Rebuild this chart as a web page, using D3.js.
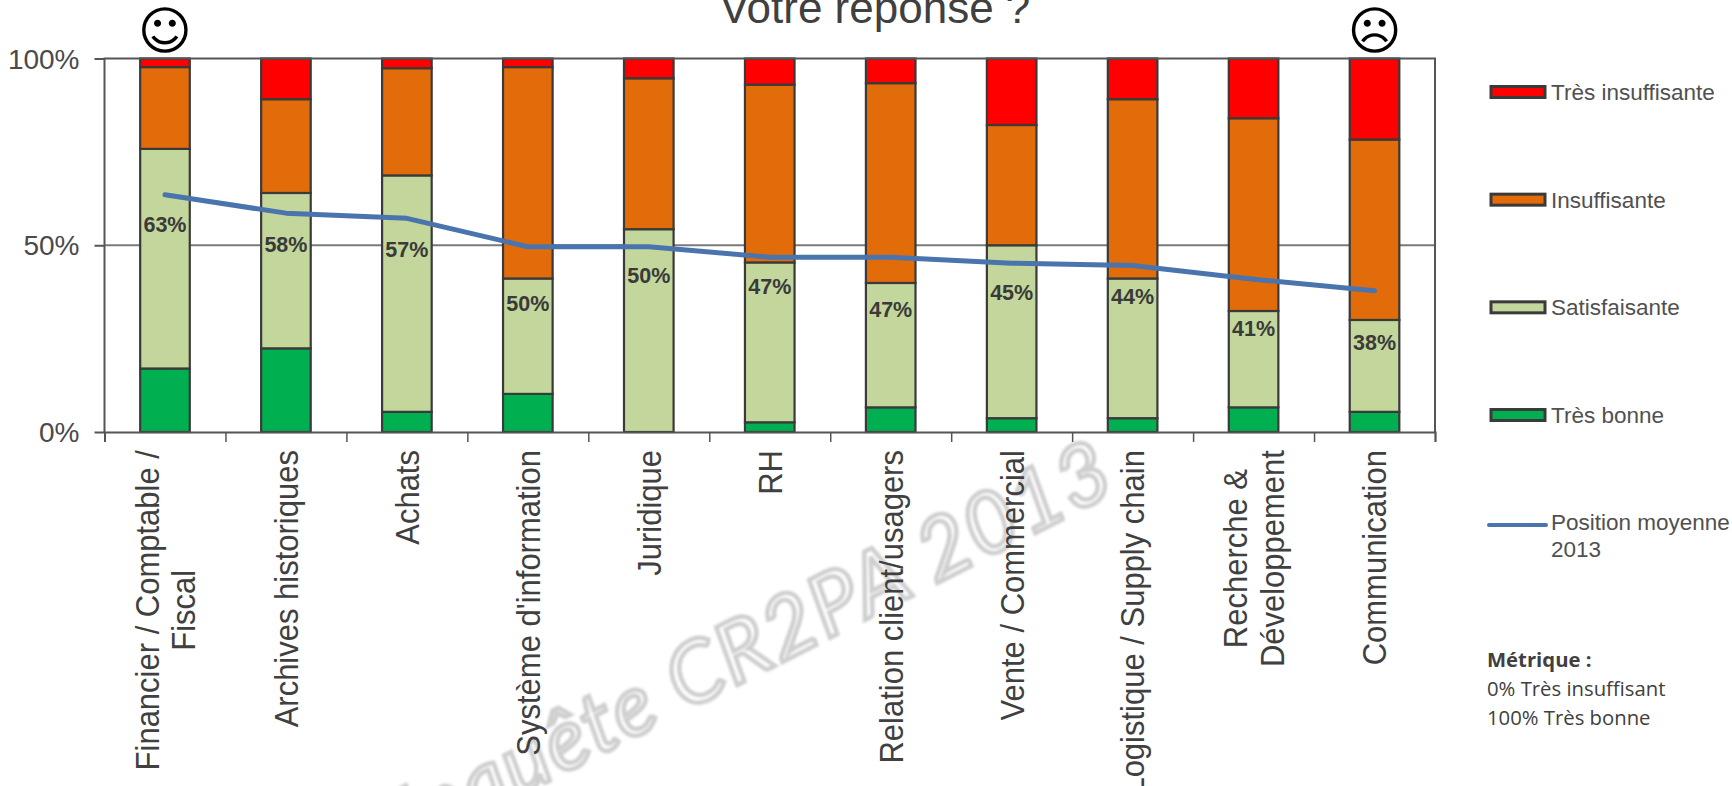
<!DOCTYPE html>
<html lang="fr">
<head>
<meta charset="utf-8">
<title>Votre réponse ?</title>
<script src="https://cdn.jsdelivr.net/npm/d3@7"></script>
<style>
html,body{margin:0;padding:0;background:#fff;overflow:hidden}
svg{display:block}
text{font-family:"Liberation Sans",Arial,sans-serif;fill:#404040}
</style>
</head>
<body>
<svg id="chart" width="1732" height="786">
  <defs><filter id="soft" x="-5%" y="-5%" width="110%" height="110%"><feGaussianBlur stdDeviation="0.8"/></filter></defs>
</svg>
<script>
const categories = [
  ["Financier / Comptable /", "Fiscal"], ["Archives historiques"], ["Achats"],
  ["Système d'information"], ["Juridique"], ["RH"], ["Relation client/usagers"],
  ["Vente / Commercial"], ["Logistique / Supply chain"],
  ["Recherche &", "Développement"], ["Communication"]
];
const tresBonne        = [17.0, 22.4,  5.4, 10.2,  0.0,  2.6,  6.6,  3.7,  3.7,  6.6,  5.4];
const satisfaisante    = [58.8, 41.6, 63.3, 30.9, 54.3, 42.8, 33.3, 46.3, 37.4, 25.8, 24.6];
const insuffisante     = [21.9, 25.1, 28.7, 56.6, 40.4, 47.6, 53.5, 32.2, 48.0, 51.6, 48.3];
const tresInsuffisante = [ 2.3, 10.9,  2.6,  2.3,  5.3,  7.0,  6.6, 17.8, 10.9, 16.0, 21.7];
const positionMoyenne  = [63.5, 58.6, 57.2, 49.6, 49.6, 46.8, 46.8, 45.2, 44.6, 40.9, 37.8];
const positionLabels   = ["63%","58%","57%","50%","50%","47%","47%","45%","44%","41%","38%"];
const labelDrops       = [30, 31, 31, 57, 29, 29, 52, 29, 31, 49, 52];
const yTicks           = [0, 50, 100];
const legendItems      = ["Très insuffisante", "Insuffisante", "Satisfaisante", "Très bonne"];
const legendLine       = ["Position moyenne", "2013"];
const metricLines      = ["Métrique :", "0% Très insuffisant", "100% Très bonne"];
const seriesKeys       = ["tb", "sa", "in", "ti"];
const seriesColors     = {tb:"#00b050", sa:"#c3d69b", in:"#e36c0a", ti:"#ff0000"};
const legendColors     = ["#ff0000", "#e36c0a", "#c3d69b", "#00b050"];

const svg = d3.select("#chart");
const L = 104.5, R = 1435, T = 58.5, B = 432;
const idx = d3.range(categories.length);
const x = d3.scaleBand().domain(idx).range([L, R]).paddingInner(0.59).paddingOuter(0.295);
const xEdges = d3.scaleLinear().domain([0, categories.length]).range([L, R]);
const y = d3.scaleLinear().domain([0, 100]).range([B, T]);
const cx = i => x(i) + x.bandwidth() / 2;

// watermark
svg.append("text")
  .attr("transform", "translate(1120,490) rotate(-27)")
  .attr("text-anchor", "end").attr("filter", "url(#soft)")
  .style("font-family", "Lato, sans-serif").style("font-style", "italic")
  .style("font-size", "86px").style("fill", "#fff")
  .style("stroke", "#cfcfcf").style("stroke-width", 4.5).style("letter-spacing", "2px")
  .text("Enquête CR2PA 2013");

// gridline
svg.append("g").selectAll("line").data(yTicks.filter(d => d === 50)).join("line")
  .attr("x1", L).attr("x2", R).attr("y1", y).attr("y2", y)
  .attr("stroke", "#7a7a7a").attr("stroke-width", 2);

// bars
const table = idx.map(i => ({tb:tresBonne[i], sa:satisfaisante[i], in:insuffisante[i], ti:tresInsuffisante[i], i}));
const stacked = d3.stack().keys(seriesKeys)(table);
svg.append("g").selectAll("g").data(stacked).join("g")
  .attr("fill", s => seriesColors[s.key])
  .selectAll("rect").data(s => s).join("rect")
  .attr("x", d => x(d.data.i)).attr("width", x.bandwidth())
  .attr("y", d => y(d[1])).attr("height", d => y(d[0]) - y(d[1]))
  .attr("stroke", "#3a3a3a").attr("stroke-width", 2.2);

// frame
svg.append("path")
  .attr("d", d3.line()([[L, B], [L, T], [R, T], [R, B]]))
  .attr("fill", "none").attr("stroke", "#555").attr("stroke-width", 2);

// axes
const yAxis = svg.append("g").attr("transform", `translate(${L},0)`)
  .call(d3.axisLeft(y).tickValues(yTicks).tickFormat(d => d + "%").tickSize(10).tickPadding(15));
yAxis.select(".domain").remove();
yAxis.selectAll("line").attr("stroke", "#555").attr("stroke-width", 2);
yAxis.selectAll("text").style("font-size", "28px").attr("fill", null).attr("dy", "0.34em").style("fill", "#4a4a4a");

const xAxis = svg.append("g").attr("transform", `translate(0,${B})`)
  .call(d3.axisBottom(xEdges).tickValues(d3.range(categories.length + 1)).tickFormat("").tickSize(10));
xAxis.select(".domain").attr("stroke", "#555").attr("stroke-width", 2);
xAxis.selectAll("line").attr("stroke", "#555").attr("stroke-width", 1.5);

// category labels: rotated, lines centred on the longest one
const catTop = 450, catLH = 34;
const catG = svg.append("g").selectAll("text").data(categories).join("text")
  .style("font-size", "31px").attr("text-anchor", "middle");
catG.each(function (lines, i) {
  const t = d3.select(this);
  lines.forEach((s, k) => t.append("tspan").attr("x", 0)
    .attr("y", (k - (lines.length - 1) / 2) * catLH + 11).text(s));
  const longest = d3.max(t.selectAll("tspan").nodes(), n => n.getComputedTextLength());
  t.attr("transform", `translate(${cx(i)},${catTop + longest / 2}) rotate(-90) scale(1,1.08)`);
});

// average line
svg.append("path")
  .attr("d", d3.line().x((d, i) => cx(i)).y(d => y(d)).curve(d3.curveLinear)(positionMoyenne))
  .attr("fill", "none").attr("stroke", "#4a74ad").attr("stroke-width", 5)
  .attr("stroke-linecap", "round").attr("stroke-linejoin", "round");

// point labels
svg.append("g").selectAll("text").data(positionLabels).join("text")
  .attr("x", (d, i) => cx(i)).attr("y", (d, i) => y(positionMoyenne[i]) + labelDrops[i])
  .attr("text-anchor", "middle").attr("dy", "0.35em")
  .style("font-size", "21.5px").style("font-weight", "bold").style("fill", "#3a3a3a")
  .text(d => d);

// title
svg.append("text").attr("x", 875).attr("y", 23).attr("text-anchor", "middle")
  .style("font-size", "44px").text("Votre réponse ?");

// smileys
svg.append("g").selectAll("text").data(["☺", "☹"]).join("text")
  .attr("x", (d, i) => cx(i === 0 ? 0 : categories.length - 1)).attr("y", 49)
  .attr("text-anchor", "middle")
  .style("font-family", "'DejaVu Sans'").style("font-size", "52px").style("fill", "#000")
  .text(d => d);

// legend
const legY = d3.scalePoint().domain(legendItems).range([92, 415]);
const leg = svg.append("g").selectAll("g").data(legendItems).join("g")
  .attr("transform", d => `translate(0,${legY(d)})`);
leg.append("rect").attr("x", 1491).attr("y", -5.5).attr("width", 54).attr("height", 11)
  .attr("fill", (d, i) => legendColors[i]).attr("stroke", "#3a3a3a").attr("stroke-width", 3);
leg.append("text").attr("x", 1551).attr("dy", "0.35em").style("font-size", "22.5px").style("fill", "#505050").text(d => d);

svg.append("line").attr("x1", 1489).attr("x2", 1546).attr("y1", 525).attr("y2", 525)
  .attr("stroke", "#4a74ad").attr("stroke-width", 4).attr("stroke-linecap", "round");
svg.append("g").selectAll("text").data(legendLine).join("text")
  .attr("x", 1551).attr("y", (d, i) => 530 + i * 27).style("font-size", "22.5px").style("fill", "#505050").text(d => d);

// metric note
svg.append("g").selectAll("text").data(metricLines).join("text")
  .attr("x", 1487).attr("y", (d, i) => 667 + i * 29)
  .style("font-family", "'Open Sans'").style("font-size", "20.3px")
  .style("font-weight", (d, i) => i === 0 ? "bold" : "normal").text(d => d);
</script>
</body>
</html>
